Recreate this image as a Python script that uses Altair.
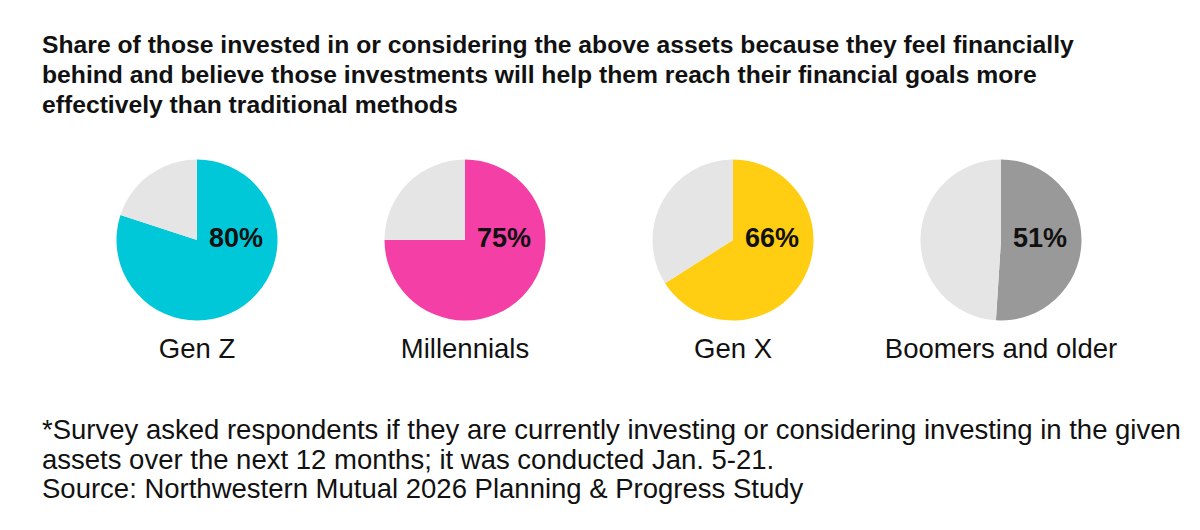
import altair as alt
import pandas as pd

# Survey shares (percent) by generation
generations = ["Gen Z", "Millennials", "Gen X", "Boomers and older"]
shares = [80, 75, 66, 51]
slice_colors = ["#00C8D8", "#F43FA6", "#FFCE12", "#999999"]
rest_color = "#E5E5E5"

title_lines = [
    "Share of those invested in or considering the above assets because they feel financially",
    "behind and believe those investments will help them reach their financial goals more",
    "effectively than traditional methods",
]
note_lines = [
    "*Survey asked respondents if they are currently investing or considering investing in the given",
    "assets over the next 12 months; it was conducted Jan. 5-21.",
    "Source: Northwestern Mutual 2026 Planning & Progress Study",
]

# Each pie: the share slice (clockwise from 12 o'clock) and the remainder
rows = []
for g, s in zip(generations, shares):
    rows.append({"gen": g, "part": g, "start": 0, "end": s})
    rows.append({"gen": g, "part": "Rest", "start": s, "end": 100})
pies = pd.DataFrame(rows)
labels = pd.DataFrame({"gen": generations, "share": shares})
labels["pct"] = labels["share"].astype(str) + "%"

x_pos = alt.X("gen:N", scale=alt.Scale(type="point", domain=generations, range=[197, 1001], padding=0), axis=None)

arcs = alt.Chart(pies).mark_arc(outerRadius=80.5, stroke=None).encode(
    x=x_pos,
    y=alt.value(240),
    theta=alt.Theta("start:Q", scale=alt.Scale(domain=[0, 100]), stack=None),
    theta2="end:Q",
    color=alt.Color(
        "part:N",
        scale=alt.Scale(domain=generations + ["Rest"], range=slice_colors + [rest_color]),
        legend=None,
    ),
)

pct_text = alt.Chart(labels).mark_text(
    font="Liberation Sans", fontWeight="bold", fontSize=27, color="#111111",
    align="center", baseline="middle", dx=39,
).encode(x=x_pos, y=alt.value(239), text="pct:N")

gen_text = alt.Chart(labels).mark_text(
    font="Liberation Sans", fontSize=27.5, color="#111111",
    align="center", baseline="alphabetic",
).encode(x=x_pos, y=alt.value(358), text="gen:N")

title_text = alt.Chart(pd.DataFrame({"t": [title_lines]})).mark_text(
    font="Liberation Sans", fontWeight="bold", fontSize=24.7, color="#111111",
    align="left", baseline="alphabetic", lineHeight=30,
).encode(x=alt.value(42), y=alt.value(53), text="t")

note_text = alt.Chart(pd.DataFrame({"t": [note_lines]})).mark_text(
    font="Liberation Sans", fontSize=27.5, color="#111111",
    align="left", baseline="alphabetic", lineHeight=29.5,
).encode(x=alt.value(42), y=alt.value(439), text="t")

chart = (
    alt.layer(arcs, pct_text, gen_text, title_text, note_text)
    .properties(width=1200, height=530, autosize=alt.AutoSizeParams(type="none"), padding=0, background="white")
    .configure_view(stroke=None)
)

chart.save("out.html", embed_options={"renderer": "svg", "actions": False})
